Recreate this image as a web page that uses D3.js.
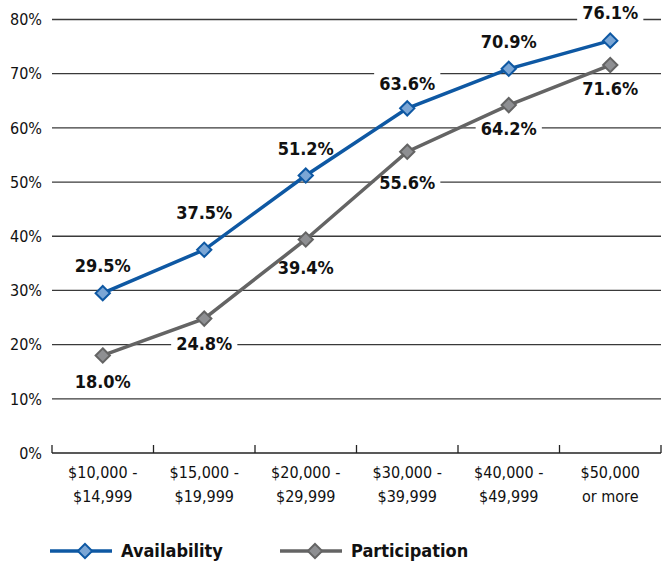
<!DOCTYPE html>
<html lang="en">
<head>
    <meta charset="UTF-8">
    <title>Availability and Participation by Income</title>
    <script src="https://d3js.org/d3.v7.min.js"></script>
    <style>
        body {
            margin: 0;
            background: #fff;
        }
        svg text {
            font-family: "DejaVu Sans", sans-serif;
            font-stretch: condensed;
            fill: #111;
        }
        .tick-label { font-size: 16px; }
        .value-label { font-size: 18px; font-weight: bold; }
        .legend-label { font-size: 18px; font-weight: bold; }
    </style>
</head>
<body>
    <svg width="665" height="564"></svg>

    <script>
        // data
        var categories = [["$10,000 -", "$14,999"], ["$15,000 -", "$19,999"], ["$20,000 -", "$29,999"],
                          ["$30,000 -", "$39,999"], ["$40,000 -", "$49,999"], ["$50,000", "or more"]];
        var availability = [29.5, 37.5, 51.2, 63.6, 70.9, 76.1];
        var participation = [18.0, 24.8, 39.4, 55.6, 64.2, 71.6];
        var yTicks = [0, 10, 20, 30, 40, 50, 60, 70, 80];

        var series = [
            { name: "Availability", values: availability, line: "#0e58a3", fill: "#7ba6d5", labelDy: [-28, -37, -27, -25, -27, -28] },
            { name: "Participation", values: participation, line: "#646464", fill: "#8e8f92", labelDy: [26, 25, 28, 31, 23, 23] }
        ];

        var svg = d3.select("svg");
        var plotLeft = 52, plotRight = 661, plotTop = 19.5, plotBottom = 453;

        var x = d3.scalePoint()
            .domain(d3.range(categories.length))
            .range([plotLeft, plotRight])
            .padding(0.5);
        var step = x.step();

        var y = d3.scaleLinear().domain([0, 80]).range([plotBottom, plotTop]);

        // gridlines
        svg.append("g")
            .selectAll("line")
            .data(yTicks.filter(function(d) { return d > 0; }))
            .enter().append("line")
            .attr("x1", plotLeft).attr("x2", plotRight)
            .attr("y1", function(d) { return y(d); })
            .attr("y2", function(d) { return y(d); })
            .attr("stroke", "#3a3a3a")
            .attr("stroke-width", 1.3);

        // y tick labels
        svg.append("g")
            .selectAll("text")
            .data(yTicks)
            .enter().append("text")
            .attr("class", "tick-label")
            .attr("x", 42)
            .attr("y", function(d) { return y(d); })
            .attr("dy", "0.36em")
            .attr("text-anchor", "end")
            .text(function(d) { return d + "%"; });

        // x axis with upward ticks at category boundaries
        var xAxis = svg.append("g");
        xAxis.append("line")
            .attr("x1", plotLeft).attr("x2", plotRight)
            .attr("y1", plotBottom).attr("y2", plotBottom)
            .attr("stroke", "#222").attr("stroke-width", 1.6);
        xAxis.selectAll(".xtick")
            .data(d3.range(categories.length + 1))
            .enter().append("line")
            .attr("x1", function(i) { return plotLeft + i * step; })
            .attr("x2", function(i) { return plotLeft + i * step; })
            .attr("y1", plotBottom).attr("y2", plotBottom - 8)
            .attr("stroke", "#222").attr("stroke-width", 1.3);

        var catText = xAxis.selectAll(".cat")
            .data(categories)
            .enter().append("text")
            .attr("class", "tick-label")
            .attr("text-anchor", "middle")
            .attr("x", function(d, i) { return x(i); })
            .attr("y", 478);
        catText.append("tspan")
            .attr("x", function(d, i) { return x(i); })
            .text(function(d) { return d[0]; });
        catText.append("tspan")
            .attr("x", function(d, i) { return x(i); })
            .attr("dy", 24)
            .text(function(d) { return d[1]; });

        // value labels with white background (under the lines, over the grid)
        series.forEach(function(s) {
            var g = svg.append("g")
                .selectAll("g")
                .data(s.values)
                .enter().append("g")
                .attr("transform", function(d, i) { return "translate(" + x(i) + "," + (y(d) + s.labelDy[i]) + ")"; });
            var t = g.append("text")
                .attr("class", "value-label")
                .attr("text-anchor", "middle")
                .attr("dy", "0.36em")
                .text(function(d) { return d.toFixed(1) + "%"; });
            t.each(function() {
                var b = this.getBBox();
                d3.select(this.parentNode).insert("rect", "text")
                    .attr("x", b.x - 5).attr("y", b.y)
                    .attr("width", b.width + 10).attr("height", b.height)
                    .attr("fill", "#fff");
            });
        });

        // lines and markers
        var line = d3.line()
            .x(function(d, i) { return x(i); })
            .y(function(d) { return y(d); });

        var diamond = d3.symbol().type(d3.symbolDiamond2).size(130);

        series.forEach(function(s) {
            svg.append("path")
                .datum(s.values)
                .attr("d", line)
                .attr("fill", "none")
                .attr("stroke", s.line)
                .attr("stroke-width", 3.5);

            svg.append("g")
                .selectAll("path")
                .data(s.values)
                .enter().append("path")
                .attr("d", diamond)
                .attr("transform", function(d, i) { return "translate(" + x(i) + "," + y(d) + ")"; })
                .attr("fill", s.fill)
                .attr("stroke", s.line)
                .attr("stroke-width", 2);
        });

        // legend
        var legend = svg.append("g").attr("transform", "translate(0,551)");
        var legendX = [50, 280];
        series.forEach(function(s, i) {
            var lg = legend.append("g").attr("transform", "translate(" + legendX[i] + ",0)");
            lg.append("line")
                .attr("x1", 0).attr("x2", 62)
                .attr("stroke", s.line).attr("stroke-width", 3.5);
            lg.append("path")
                .attr("d", diamond)
                .attr("transform", "translate(35,0)")
                .attr("fill", s.fill)
                .attr("stroke", s.line)
                .attr("stroke-width", 2);
            lg.append("text")
                .attr("class", "legend-label")
                .attr("x", 71)
                .attr("dy", "0.36em")
                .text(s.name);
        });
    </script>
</body>
</html>
